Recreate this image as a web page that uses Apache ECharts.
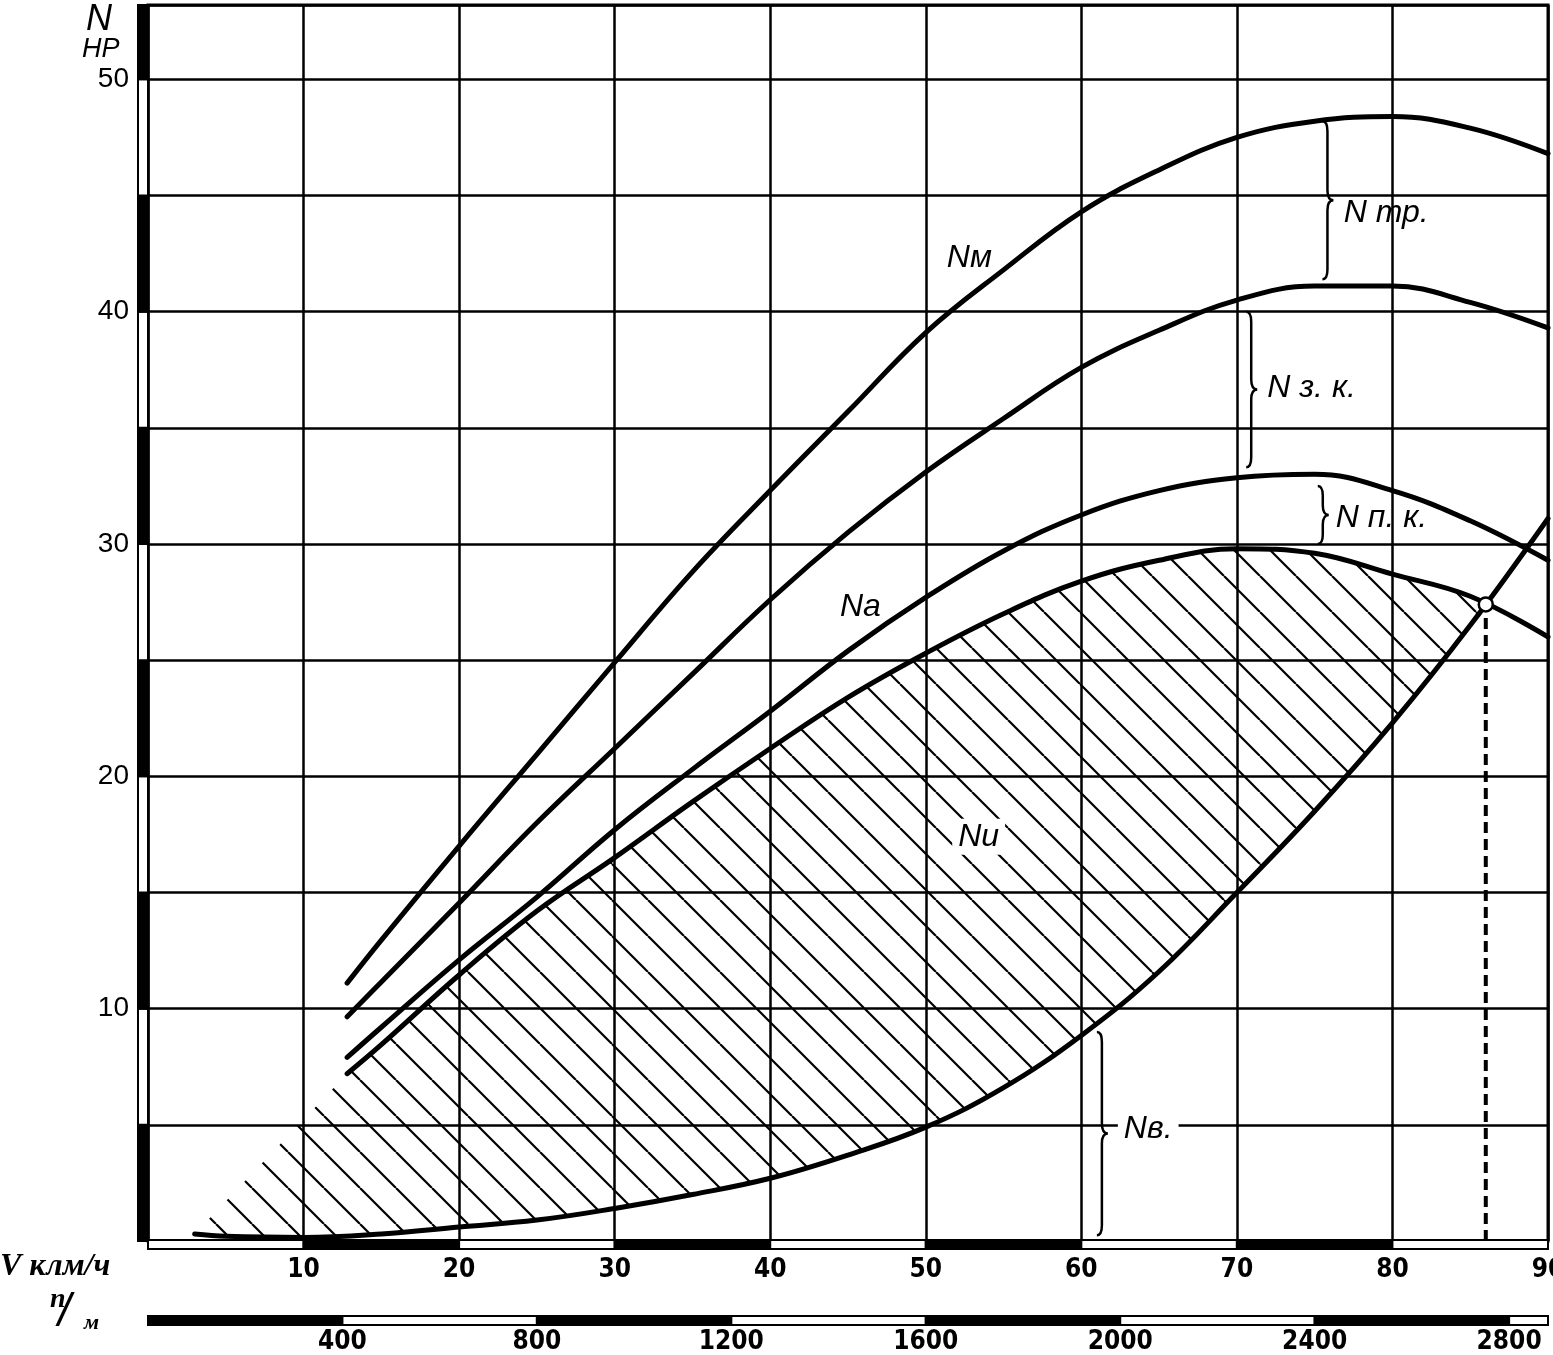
<!DOCTYPE html>
<html><head><meta charset="utf-8">
<script src="https://cdn.jsdelivr.net/npm/echarts@6/dist/echarts.min.js"></script>
<style>html,body{margin:0;padding:0;background:#fff}#c{width:1553px;height:1355px}</style>
</head><body><div id="c"></div>
<script>
// ---- axis ticks ----
const speedTicks = [0,10,20,30,40,50,60,70,80,90];
const powerTicks = [0,5,10,15,20,25,30,35,40,45,50];
const rpmTicks = [0,400,800,1200,1600,2000,2400,2800];
const speedMax = 90, powerMax = 53.2, rpmMax = 2880;

// ---- curves (V km/h -> N HP) ----
const curveV  = [12.8,15,20,25,30,35,40,45,50,55,60,65,70,75,80,85,90];
const nMotor  = [11.1,12.95,17.0,20.95,24.9,28.8,32.3,35.7,39.1,41.8,44.3,46.1,47.5,48.2,48.4,47.9,46.8];
const nTrans  = [9.65,11.15,14.55,18.0,21.2,24.4,27.6,30.5,33.1,35.4,37.6,39.2,40.5,41.1,41.1,40.4,39.3];
const nA      = [7.9,9.2,12.1,14.8,17.7,20.3,22.8,25.4,27.7,29.7,31.25,32.3,32.85,33.0,32.3,31.0,29.3];
const nU      = [7.2,8.45,11.45,14.2,16.5,18.9,21.2,23.4,25.3,27.0,28.4,29.3,29.8,29.6,28.7,27.75,26.0];
const resistV = [3,5,10,15,20,25,30,35,40,45,50,55,60,65,70,75,80,85,90];
const nB      = [0.3,0.2,0.15,0.3,0.6,0.9,1.4,2.0,2.7,3.7,4.9,6.6,8.85,11.6,15.0,18.5,22.3,26.5,31.1];
const balancePoint = [86.0, 27.4];
const hatchLeftEdge = [[3, 0.3], [12.8, 7.2]];

// ---- annotations ----
const braces = [[75.5, 48.2, 41.4], [70.6, 40.0, 33.3], [75.2, 32.5, 30.0], [61.0, 9.0, 0.25]];
const labelNames = ['Nм', 'Na', 'Nu', 'N тр.', 'N з. к.', 'N п. к.', 'Nв.'];
const labelV     = [52.8, 45.8, 53.4, 79.6, 74.8, 79.3, 64.3];
const labelN     = [42.3, 27.3, 17.4, 44.25, 36.7, 31.1, 4.8];
const labelBg    = [false, false, true, false, false, false, true];

// hatch pattern
const pc = document.createElement('canvas');
const S = 36; pc.width = S; pc.height = S;
const g = pc.getContext('2d');
g.strokeStyle = '#000'; g.lineWidth = 2.2;
g.beginPath();
g.moveTo(-S, 0); g.lineTo(0, S);
g.moveTo(0, 0); g.lineTo(S, S);
g.moveTo(S, 0); g.lineTo(2 * S, S);
g.stroke();
const hatch = {image: pc, repeat: 'repeat'};

const zip = (xs, ys) => xs.map((x, i) => [x, ys[i]]);
const curveStyle = {color: '#000', width: 5, cap: 'round'};
const mkCurve = (name, xs, ys) => ({
  name, type: 'line', data: zip(xs, ys), smooth: 0.4, showSymbol: false, symbol: 'none',
  lineStyle: curveStyle, z: 4, silent: true
});

function bandSeries(edges, axis, xAxisIndex) {
  return {
    type: 'custom', xAxisIndex, yAxisIndex: 0, z: 6, silent: true,
    data: edges.slice(0, -1).map((e, i) => [e, edges[i + 1], i]),
    renderItem(params, api) {
      const a = api.value(0), b = api.value(1), k = api.value(2);
      let x, y, w, h, black;
      if (axis === 'x') {
        const p0 = api.coord([a, 0]), p1 = api.coord([b, 0]);
        x = p0[0]; w = p1[0] - p0[0]; y = p0[1] - 1; h = 9; black = k % 2 === 1;
      } else if (axis === 'rpm') {
        const p0 = api.coord([a, 0]), p1 = api.coord([b, 0]);
        x = p0[0]; w = p1[0] - p0[0]; y = p0[1] + 75; h = 9; black = k % 2 === 0;
      } else {
        const p0 = api.coord([0, a]), p1 = api.coord([0, b]);
        x = p0[0] - 10; w = 10; y = p1[1]; h = p0[1] - p1[1]; black = k % 2 === 0;
      }
      return {type: 'rect', shape: {x, y, width: w, height: h},
        style: {fill: black ? '#000' : '#fff', stroke: '#000', lineWidth: 2}};
    }
  };
}
const xEdges = speedTicks.slice();
const yEdges = powerTicks.concat([powerMax]);
const rEdges = rpmTicks.concat([rpmMax]);
const numFont = '"Liberation Sans Narrow","DejaVu Sans Condensed","Liberation Sans",sans-serif';

const option = {
  animation: false,
  backgroundColor: '#fff',
  grid: {left: 148, right: 5, top: 5, bottom: 114, containLabel: false, outerBoundsMode: 'none',
    show: true, borderColor: '#000', borderWidth: 3},
  xAxis: [{
    type: 'value', min: 0, max: speedMax, interval: 10,
    axisLine: {show: false}, axisTick: {show: false},
    splitLine: {show: true, lineStyle: {color: '#000', width: 2.5}},
    axisLabel: {margin: 16, color: '#000', fontSize: 26, fontWeight: 'bold', fontFamily: numFont,
      formatter: v => (speedTicks.indexOf(v) > 0 ? String(v) : '')}
  }, {
    type: 'value', min: 0, max: rpmMax, interval: 400, position: 'bottom', offset: 79,
    axisLine: {show: false}, axisTick: {show: false}, splitLine: {show: false},
    axisLabel: {margin: 9, color: '#000', fontSize: 26, fontWeight: 'bold', fontFamily: numFont,
      formatter: v => (rpmTicks.indexOf(v) > 0 ? String(v) : '')}
  }],
  yAxis: {
    type: 'value', min: 0, max: powerMax, interval: 5,
    axisLine: {show: false}, axisTick: {show: false},
    splitLine: {show: true, lineStyle: {color: '#000', width: 2.5}},
    axisLabel: {margin: 19, color: '#000', fontSize: 28, fontFamily: '"Liberation Sans",sans-serif',
      formatter: v => (v > 0 && v % 10 === 0 && powerTicks.indexOf(v) >= 0 ? String(v) : '')}
  },
  graphic: [
    {type: 'text', left: 86, top: 2, style: {text: 'N', font: 'italic 36px "Liberation Sans"', fill: '#000'}},
    {type: 'text', left: 82, top: 36, style: {text: 'HP', font: 'italic 27px "Liberation Sans"', fill: '#000'}},
    {type: 'text', left: 0, top: 1251, style: {text: 'V клм/ч', font: 'italic bold 32px "Liberation Serif"', fill: '#000'}},
    {type: 'text', left: 50, top: 1286, style: {text: 'n', font: 'italic bold 28px "Liberation Serif"', fill: '#000'}},
    {type: 'text', left: 58, top: 1290, style: {text: '/', font: 'italic 46px "Liberation Sans"', fill: '#000'}},
    {type: 'text', left: 84, top: 1312, style: {text: 'м', font: 'italic bold 22px "Liberation Serif"', fill: '#000'}}
  ],
  series: [
    {
      type: 'custom', xAxisIndex: 0, yAxisIndex: 0, z: 2, silent: true, data: [[0]],
      renderItem(params, api) {
        const pts = [api.coord(hatchLeftEdge[0])];
        curveV.forEach((v, i) => { if (v < balancePoint[0]) pts.push(api.coord([v, nU[i]])); });
        pts.push(api.coord(balancePoint));
        for (let i = resistV.length - 1; i >= 0; i--) {
          if (resistV[i] < balancePoint[0] && resistV[i] > hatchLeftEdge[0][0]) pts.push(api.coord([resistV[i], nB[i]]));
        }
        return {type: 'polygon', shape: {points: pts}, style: {fill: hatch, stroke: null}};
      }
    },
    mkCurve('Nм', curveV, nMotor),
    mkCurve('N2', curveV, nTrans),
    mkCurve('Na', curveV, nA),
    mkCurve('Nu', curveV, nU),
    mkCurve('Nв', resistV, nB),
    {
      type: 'line', data: [[balancePoint[0], 0], balancePoint], showSymbol: false, symbol: 'none', z: 5,
      lineStyle: {color: '#000', width: 4, type: [11, 6]}, silent: true
    },
    {
      type: 'scatter', data: [balancePoint], symbol: 'circle', symbolSize: 14, z: 7,
      itemStyle: {color: '#fff', borderColor: '#000', borderWidth: 2.5, opacity: 1}, silent: true
    },
    bandSeries(xEdges, 'x', 0),
    bandSeries(rEdges, 'rpm', 1),
    bandSeries(yEdges, 'y', 0),
    {
      type: 'custom', xAxisIndex: 0, yAxisIndex: 0, z: 5, silent: true, data: braces,
      renderItem(params, api) {
        const a = api.coord([api.value(0), api.value(1)]);
        const b = api.coord([api.value(0), api.value(2)]);
        const x = a[0], y1 = a[1], y2 = b[1], ym = (y1 + y2) / 2;
        const xs = x + 5, xt = x + 11, h = Math.min(10, (y2 - y1) / 6);
        const d = `M${x},${y1} Q${xs},${y1} ${xs},${y1 + h} L${xs},${ym - h} Q${xs},${ym} ${xt},${ym} ` +
                  `Q${xs},${ym} ${xs},${ym + h} L${xs},${y2 - h} Q${xs},${y2} ${x},${y2}`;
        return {type: 'path', shape: {pathData: d}, style: {fill: null, stroke: '#000', lineWidth: 2.5}};
      }
    },
    {
      type: 'scatter', z: 8, symbolSize: 1, itemStyle: {color: 'rgba(0,0,0,0)'}, silent: true,
      data: labelNames.map((n, i) => ({value: [labelV[i], labelN[i]], name: n,
        label: {backgroundColor: labelBg[i] ? '#fff' : 'transparent', padding: labelBg[i] ? [2, 6] : 0}})),
      label: {show: true, position: 'inside', formatter: p => p.name, color: '#000',
        textBorderWidth: 0, textBorderColor: 'transparent', opacity: 1,
        fontSize: 32, fontStyle: 'italic', fontFamily: '"Liberation Sans",sans-serif'}
    }
  ]
};
echarts.init(document.getElementById('c')).setOption(option);
</script></body></html>
